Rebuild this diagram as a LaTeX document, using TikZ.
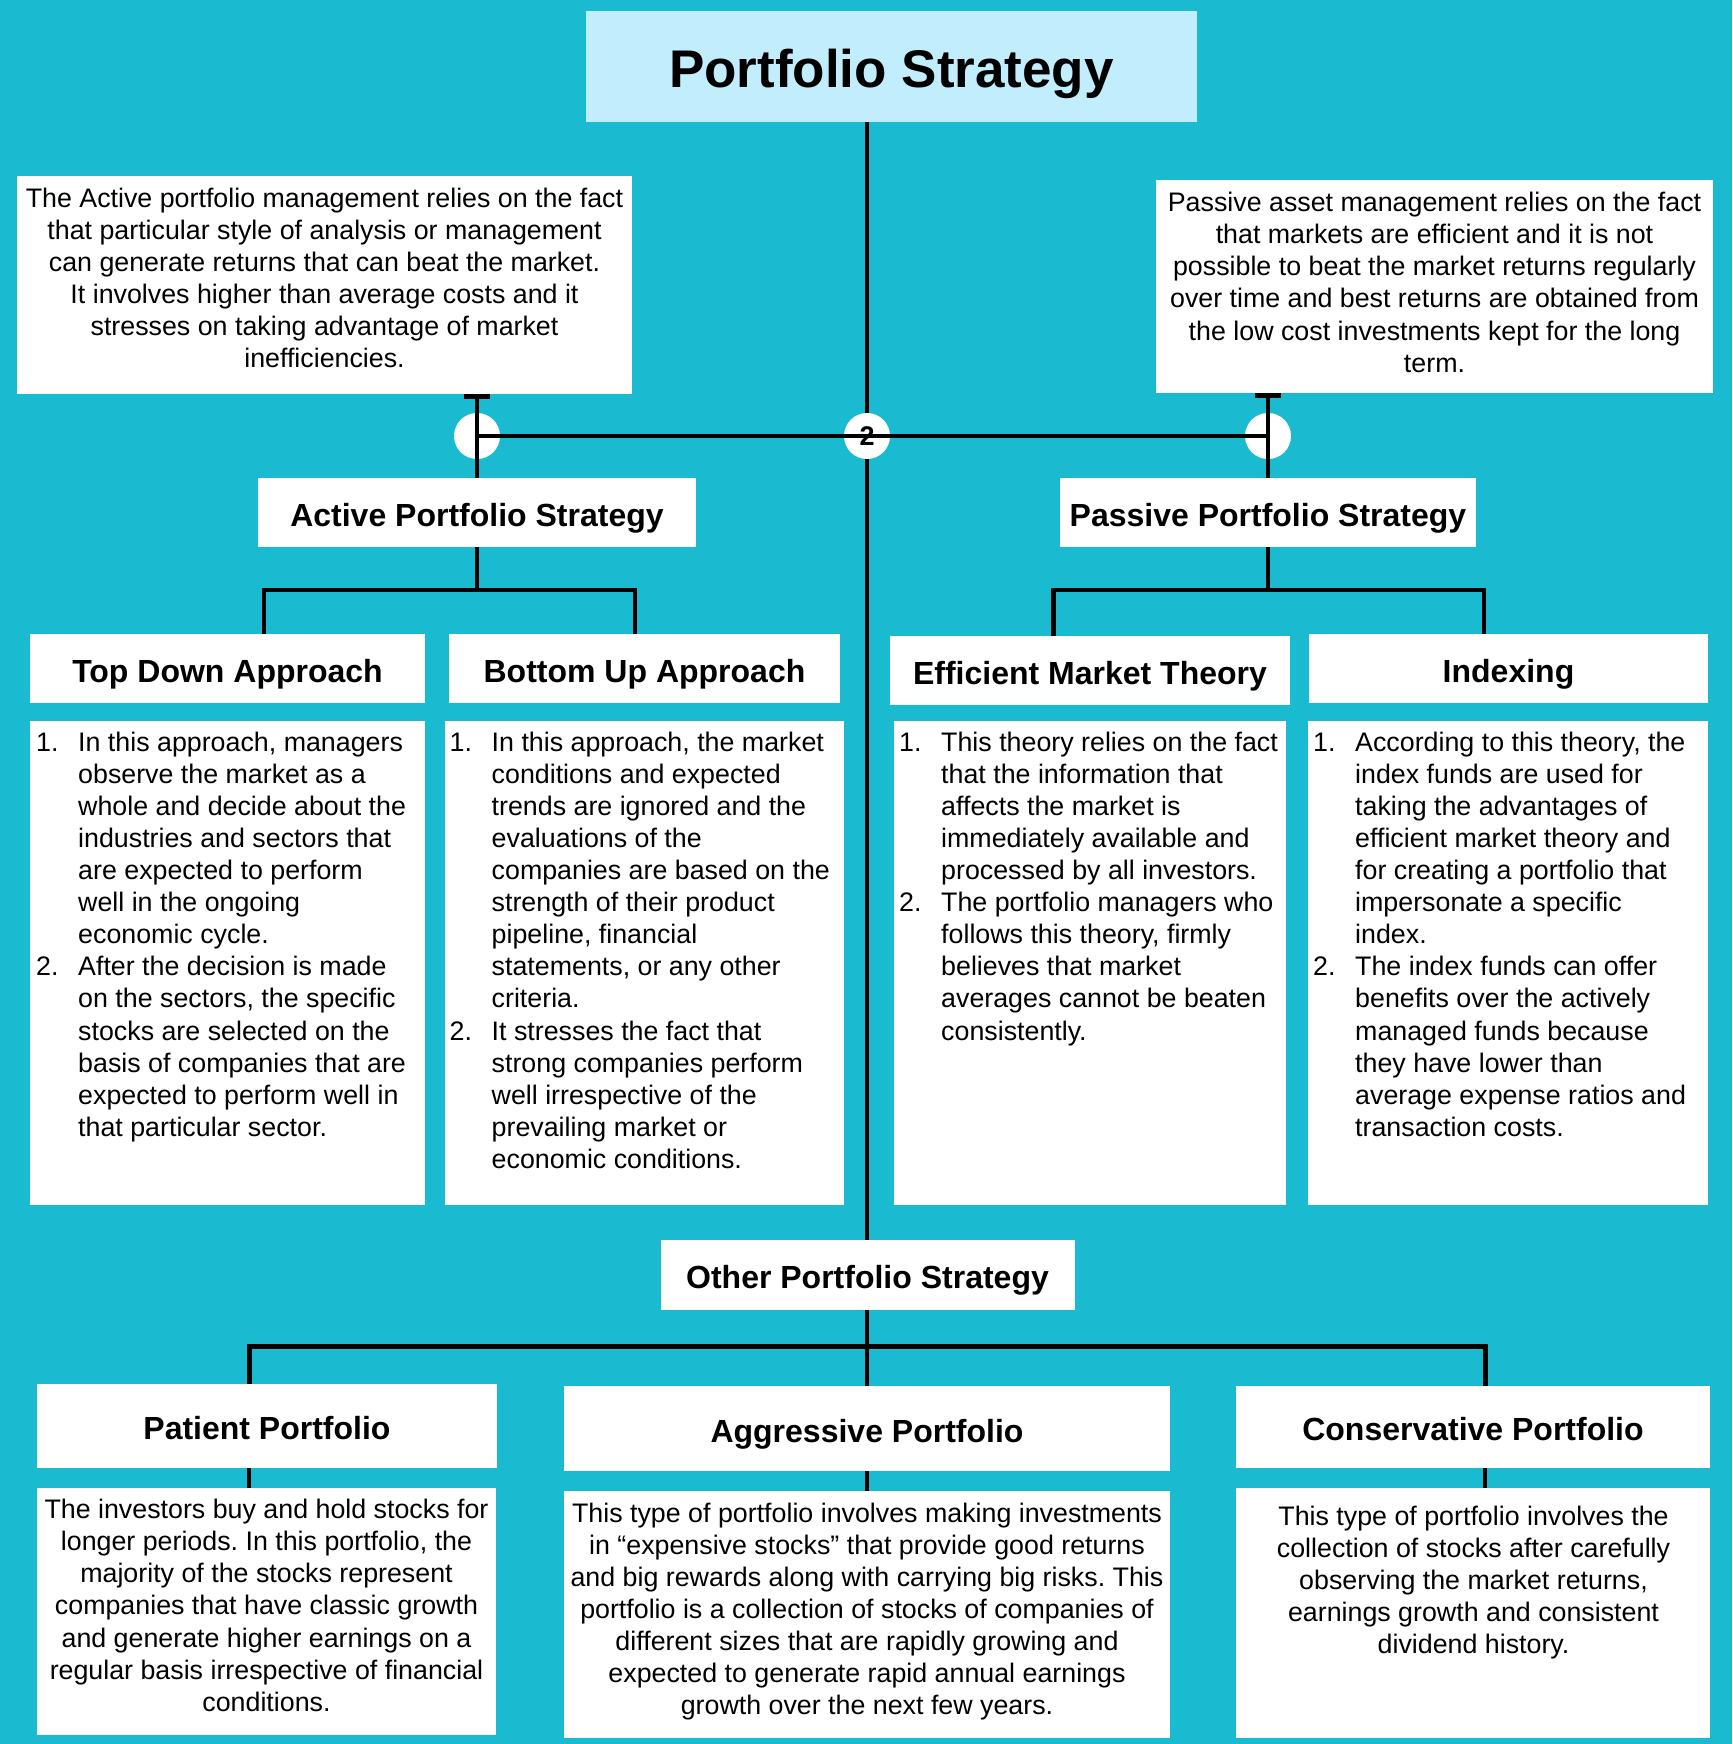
\documentclass[tikz,border=0pt]{standalone}
\usepackage{fontspec}
\setmainfont{Liberation Sans}
\usetikzlibrary{arrows.meta}
\definecolor{bgc}{RGB}{26,187,208}
\definecolor{ttlc}{RGB}{194,237,252}
\newcommand\myBody{\fontsize{26.8}{32.1}\selectfont}
\newcommand\myHdr{\fontsize{32}{38}\selectfont\bfseries}
\newcommand\myTitle{\fontsize{53}{62}\selectfont\bfseries}
\newcommand\myTwo{\fontsize{27}{32}\selectfont\bfseries}
\newcommand\nb[1]{\makebox[42pt][l]{#1}}
\newcommand\ib{\hspace*{42pt}}
\frenchspacing
\begin{document}
\begin{tikzpicture}[x=1pt,y=-1pt,
  box/.style={fill=white, inner sep=0pt, outer sep=0pt},
  hdr/.style={box, font=\myHdr, text height=27pt, text depth=0pt},
  conn/.style={line width=4.5pt, draw=black},
  txt/.style={inner sep=0pt, font=\myBody, anchor=north},
  lst/.style={txt, align=left, anchor=north west},
  ctr/.style={txt, align=center},
  dot/.style={circle, fill=white, inner sep=0pt, minimum size=46pt}]
\fill[bgc] (0,0) rectangle (1732,1744);
\useasboundingbox (0,0) rectangle (1732,1744);

% boxes
\node[box, fill=ttlc, font=\myTitle, text height=41.5pt, text depth=0pt, minimum width=611pt, minimum height=111pt] (title) at (891.5,66.5) {Portfolio Strategy};
\node[box, minimum width=615pt, minimum height=218pt] (actDesc) at (324.5,285) {};
\node[box, minimum width=557pt, minimum height=213pt] (pasDesc) at (1434.5,286.5) {};
\node[hdr, minimum width=438pt, minimum height=69pt] (actHdr) at (477,512.5) {Active Portfolio Strategy};
\node[hdr, minimum width=416pt, minimum height=69pt] (pasHdr) at (1268,512.5) {Passive Portfolio Strategy};
\node[hdr, minimum width=395pt, minimum height=69pt] (tdHdr) at (227.5,668.5) {Top Down Approach};
\node[hdr, minimum width=391pt, minimum height=69pt] (buHdr) at (644.5,668.5) {Bottom Up Approach};
\node[hdr, minimum width=400pt, minimum height=69pt] (emHdr) at (1090,670.5) {Efficient Market Theory};
\node[hdr, minimum width=399pt, minimum height=69pt] (ixHdr) at (1508.5,668.5) {Indexing};
\node[box, minimum width=395pt, minimum height=484pt] (tdBody) at (227.5,963) {};
\node[box, minimum width=399pt, minimum height=484pt] (buBody) at (644.5,963) {};
\node[box, minimum width=392pt, minimum height=484pt] (emBody) at (1090,963) {};
\node[box, minimum width=400pt, minimum height=484pt] (ixBody) at (1508,963) {};
\node[hdr, minimum width=414pt, minimum height=70pt] (othHdr) at (867.5,1275) {Other Portfolio Strategy};
\node[hdr, minimum width=460pt, minimum height=84pt] (patHdr) at (267,1426) {Patient Portfolio};
\node[hdr, minimum width=606pt, minimum height=85pt] (aggHdr) at (867,1428.5) {Aggressive Portfolio};
\node[hdr, minimum width=474pt, minimum height=82pt] (conHdr) at (1473,1427) {Conservative Portfolio};
\node[box, minimum width=459pt, minimum height=247pt] (patBody) at (266.5,1611.5) {};
\node[box, minimum width=606pt, minimum height=247pt] (aggBody) at (867,1614.5) {};
\node[box, minimum width=474pt, minimum height=250pt] (conBody) at (1473,1613) {};

% coordinates
\coordinate (tx) at (867,0);
\coordinate (aL) at (264,590);
\coordinate (aR) at (635,590);
\coordinate (pL) at (1053.5,590);
\coordinate (pR) at (1484,590);
\coordinate (oL) at (249,1346);
\coordinate (oR) at (1485,1346);

% trunk
\draw[conn] (title.south -| tx) -- (othHdr.north -| tx);
\node[dot] (cL) at (477,436) {};
\node[dot] (cM) at (867,436) {};
\node[dot] (cR) at (1268,436) {};
\draw[conn] (cL.center) -- (cR.center);
\draw[conn, -{Rectangle[length=4.5pt,width=26pt]}] (actHdr.north) -- (actHdr.north |- actDesc.south);
\draw[conn, -{Rectangle[length=4.5pt,width=26pt]}] (pasHdr.north) -- (pasHdr.north |- pasDesc.south);
\node[font=\myTwo, inner sep=0pt] (two) at (cM.center) {2};

% active / passive trees
\draw[conn] (actHdr.south) -- (actHdr.south |- aL);
\draw[conn] (tdHdr.north -| aL) -- (aL) -- (aR) -- (buHdr.north -| aR);
\draw[conn] (pasHdr.south) -- (pasHdr.south |- pL);
\draw[conn] (emHdr.north -| pL) -- (pL) -- (pR) -- (ixHdr.north -| pR);

% other tree
\draw[conn] (othHdr.south -| tx) -- (aggHdr.north -| tx);
\draw[conn, line width=5pt] (patHdr.north -| oL) -- (oL) -- (oR) -- (conHdr.north -| oR);
\draw[conn] (patHdr.south -| oL) -- (patBody.north -| oL);
\draw[conn] (aggHdr.south -| tx) -- (aggBody.north -| tx);
\draw[conn] (conHdr.south -| oR) -- (conBody.north -| oR);

% texts
\node[ctr] (actText) at (324.5,184.5) {\strut The Active portfolio management relies on the fact\\
that particular style of analysis or management\\
can generate returns that can beat the market.\\
It involves higher than average costs and it\\
stresses on taking advantage of market\\
inefficiencies.};
\node[ctr] (pasText) at (1434.5,189) {\strut Passive asset management relies on the fact\\
that markets are efficient and it is not\\
possible to beat the market returns regularly\\
over time and best returns are obtained from\\
the low cost investments kept for the long\\
term.};

\node[lst] (tdText) at (36,728.5) {\strut\nb{1.}In this approach, managers\\
\ib observe the market as a\\
\ib whole and decide about the\\
\ib industries and sectors that\\
\ib are expected to perform\\
\ib well in the ongoing\\
\ib economic cycle.\\
\nb{2.}After the decision is made\\
\ib on the sectors, the specific\\
\ib stocks are selected on the\\
\ib basis of companies that are\\
\ib expected to perform well in\\
\ib that particular sector.};

\node[lst] (buText) at (449.5,728.5) {\strut\nb{1.}In this approach, the market\\
\ib conditions and expected\\
\ib trends are ignored and the\\
\ib evaluations of the\\
\ib companies are based on the\\
\ib strength of their product\\
\ib pipeline, financial\\
\ib statements, or any other\\
\ib criteria.\\
\nb{2.}It stresses the fact that\\
\ib strong companies perform\\
\ib well irrespective of the\\
\ib prevailing market or\\
\ib economic conditions.};

\node[lst] (emText) at (899,728.5) {\strut\nb{1.}This theory relies on the fact\\
\ib that the information that\\
\ib affects the market is\\
\ib immediately available and\\
\ib processed by all investors.\\
\nb{2.}The portfolio managers who\\
\ib follows this theory, firmly\\
\ib believes that market\\
\ib averages cannot be beaten\\
\ib consistently.};

\node[lst] (ixText) at (1313,728.5) {\strut\nb{1.}According to this theory, the\\
\ib index funds are used for\\
\ib taking the advantages of\\
\ib efficient market theory and\\
\ib for creating a portfolio that\\
\ib impersonate a specific\\
\ib index.\\
\nb{2.}The index funds can offer\\
\ib benefits over the actively\\
\ib managed funds because\\
\ib they have lower than\\
\ib average expense ratios and\\
\ib transaction costs.};

\node[ctr] (patText) at (266.5,1496) {\strut The investors buy and hold stocks for\\
longer periods. In this portfolio, the\\
majority of the stocks represent\\
companies that have classic growth\\
and generate higher earnings on a\\
regular basis irrespective of financial\\
conditions.};
\node[ctr] (aggText) at (867,1499.5) {\strut This type of portfolio involves making investments\\
in “expensive stocks” that provide good returns\\
and big rewards along with carrying big risks. This\\
portfolio is a collection of stocks of companies of\\
different sizes that are rapidly growing and\\
expected to generate rapid annual earnings\\
growth over the next few years.};
\node[ctr] (conText) at (1473.5,1502.5) {\strut This type of portfolio involves the\\
collection of stocks after carefully\\
observing the market returns,\\
earnings growth and consistent\\
dividend history.};
\end{tikzpicture}
\end{document}
